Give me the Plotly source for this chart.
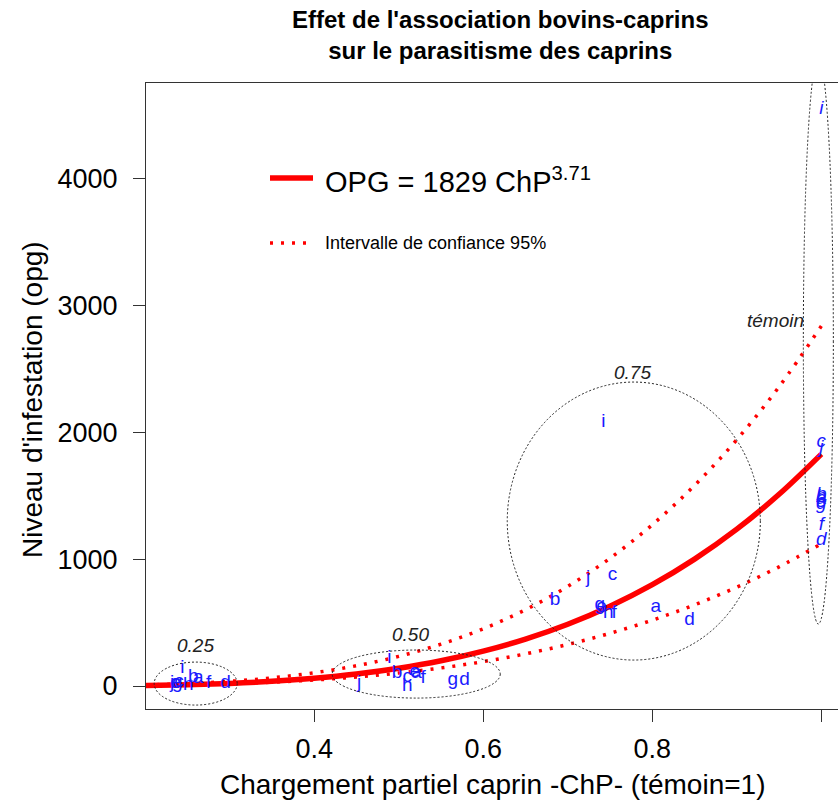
import plotly.graph_objects as go

# ---------------- data ----------------
# fitted curve OPG = 1829 ChP^3.71 and its 95% interval, read along the ChP axis
chp_grid = [0.20, 0.25, 0.30, 0.35, 0.40, 0.45, 0.50, 0.55, 0.60, 0.65, 0.70,
            0.75, 0.80, 0.85, 0.90, 0.95, 1.00]
opg_fit = [4.7, 10.7, 21.0, 37.2, 61.1, 94.5, 139.8, 199.0, 274.9, 369.9, 487.1,
           629.2, 799.3, 1000.8, 1237.3, 1512.0, 1829.0]
opg_upper = [8.6, 19.3, 37.2, 64.8, 104.8, 160, 234, 330, 451, 602, 786,
             1008, 1272, 1582, 1943, 2360, 2839]
opg_lower = [4.3, 9.4, 17.6, 30.0, 47.5, 71.4, 102.7, 142.7, 192.5, 253.9, 327.7,
             415.8, 519.5, 640.4, 780.1, 940, 1122]

# individual observations (letters = animals), per grazing group
lab_025 = ["j", "g", "c", "e", "i", "h", "b", "a", "f", "d"]
chp_025 = [0.232, 0.238, 0.240, 0.236, 0.244, 0.251, 0.257, 0.263, 0.275, 0.295]
opg_025 = [24, 24, 30, 20, 142, 8, 71, 63, 24, 24]

lab_050 = ["i", "j", "b", "c", "a", "e", "f", "h", "g", "d"]
chp_050 = [0.489, 0.453, 0.498, 0.510, 0.521, 0.519, 0.529, 0.510, 0.564, 0.578]
opg_050 = [221, 24, 103, 71, 103, 110, 63, 0, 47, 47]

lab_075 = ["i", "j", "c", "b", "g", "e", "h", "f", "a", "d"]
chp_075 = [0.742, 0.724, 0.753, 0.685, 0.738, 0.740, 0.748, 0.755, 0.804, 0.844]
opg_075 = [2082, 852, 875, 678, 639, 625, 576, 576, 623, 520]

lab_tem = ["i", "c", "j", "b", "h", "a", "e", "g", "f", "d"]
chp_tem = [1.0, 1.0, 1.0, 1.0, 1.0, 1.0, 1.0, 1.0, 1.0, 1.0]
opg_tem = [4550, 1924, 1877, 1506, 1491, 1470, 1451, 1435, 1270, 1151]

# group envelopes (ellipses) and their labels
grp_names = ["0.25", "0.50", "0.75", "témoin"]
grp_chp_min = [0.2107, 0.4213, 0.6284, 0.9787]
grp_chp_max = [0.3089, 0.6201, 0.9278, 1.0142]
grp_opg_min = [-150, -95, 205, 489]
grp_opg_max = [189, 284, 2397, 4950]
grp_label_chp = [0.259, 0.514, 0.777, 0.9456]
grp_label_opg = [323, 410, 2476, 2886]

x_ticks = [0.4, 0.6, 0.8, 1.0]
x_ticklabels = ["0.4", "0.6", "0.8", "1.0"]
y_ticks = [0, 1000, 2000, 3000, 4000]
y_ticklabels = ["0", "1000", "2000", "3000", "4000"]

# ---------------- layout geometry ----------------
W, H = 838, 805
L, R, T, B = 146, 838, 83, 709
PW, PH = R - L, B - T
FONT = "Liberation Sans, Arial, sans-serif"


def px(xp):
    return (xp - L) / PW


def py(yp):
    return (B - yp) / PH


fig = go.Figure()

# confidence interval (dotted)
for ys in (opg_upper, opg_lower):
    fig.add_trace(go.Scatter(x=chp_grid, y=ys, mode="lines", line_shape="spline",
                             line=dict(color="#ff0000", width=3.5, dash="3px,8px"),
                             hoverinfo="skip", showlegend=False))
# fitted curve
fig.add_trace(go.Scatter(x=chp_grid, y=opg_fit, mode="lines", line_shape="spline",
                         line=dict(color="#ff0000", width=5.5),
                         hoverinfo="skip", showlegend=False))

# letters
for labs, xs, ys, italic in ((lab_025, chp_025, opg_025, False),
                             (lab_050, chp_050, opg_050, False),
                             (lab_075, chp_075, opg_075, False),
                             (lab_tem, chp_tem, opg_tem, True)):
    fig.add_trace(go.Scatter(x=xs, y=ys, mode="text", text=labs,
                             textposition="middle center",
                             textfont=dict(family=FONT, size=19, color="#1a1aff",
                                           style="italic" if italic else "normal"),
                             hoverinfo="skip", showlegend=False))

# ellipses
for x0, x1, y0, y1 in zip(grp_chp_min, grp_chp_max, grp_opg_min, grp_opg_max):
    fig.add_shape(type="circle", xref="x", yref="y", x0=x0, x1=x1, y0=y0, y1=y1,
                  line=dict(color="#222222", width=1, dash="2px,2px"), layer="above")

# group labels
for name, gx, gy in zip(grp_names, grp_label_chp, grp_label_opg):
    fig.add_annotation(x=gx, y=gy, xref="x", yref="y", text=name, showarrow=False,
                       font=dict(family=FONT, size=19, color="#222222", style="italic"))

# legend (custom, as in the original)
fig.add_shape(type="line", xref="paper", yref="paper", x0=px(270), x1=px(313),
              y0=py(178), y1=py(178), line=dict(color="#ff0000", width=5.5))
fig.add_shape(type="line", xref="paper", yref="paper", x0=px(270), x1=px(307),
              y0=py(243), y1=py(243), line=dict(color="#ff0000", width=3.5, dash="3px,8px"))
fig.add_annotation(x=px(323), y=py(180), xref="paper", yref="paper", xanchor="left",
                   yanchor="middle", showarrow=False,
                   text="OPG = 1829 ChP<sup>3.71</sup>",
                   font=dict(family=FONT, size=29, color="#000000"))
fig.add_annotation(x=px(323), y=py(243), xref="paper", yref="paper", xanchor="left",
                   yanchor="middle", showarrow=False,
                   text="Intervalle de confiance 95%",
                   font=dict(family=FONT, size=18, color="#000000"))

# titles
fig.add_annotation(x=px(500), y=py(35), xref="paper", yref="paper", showarrow=False,
                   xanchor="center", yanchor="middle",
                   text="<b>Effet de l'association bovins-caprins<br>sur le parasitisme des caprins</b>",
                   font=dict(family=FONT, size=24, color="#000000"))
fig.add_annotation(x=px(492), y=py(784), xref="paper", yref="paper", showarrow=False,
                   xanchor="center", yanchor="middle",
                   text="Chargement partiel caprin -ChP- (témoin=1)",
                   font=dict(family=FONT, size=28, color="#000000"))
fig.add_annotation(x=px(32), y=py(400), xref="paper", yref="paper", showarrow=False,
                   xanchor="center", yanchor="middle", textangle=-90,
                   text="Niveau d'infestation (opg)",
                   font=dict(family=FONT, size=28, color="#000000"))

fig.update_layout(
    width=W, height=H,
    margin=dict(l=L, r=W - R, t=T, b=H - B, pad=0),
    paper_bgcolor="white", plot_bgcolor="white",
    showlegend=False,
    xaxis=dict(range=[0.201, 1.0197], tickvals=x_ticks, ticktext=x_ticklabels,
               showgrid=False, zeroline=False, showline=True, mirror=True,
               linecolor="#333333", linewidth=1, ticks="outside", ticklen=12,
               tickcolor="#333333", tickfont=dict(family=FONT, size=27, color="#000000"),
               ticklabelstandoff=4),
    yaxis=dict(range=[-181, 4755], tickvals=y_ticks, ticktext=y_ticklabels,
               showgrid=False, zeroline=False, showline=True, mirror=False,
               linecolor="#333333", linewidth=1, ticks="outside", ticklen=12,
               tickcolor="#333333", tickfont=dict(family=FONT, size=27, color="#000000"),
               ticklabelstandoff=10),
)

fig.write_html("out.html", config={"displayModeBar": False},
               post_script="document.body.style.margin='0px';")
